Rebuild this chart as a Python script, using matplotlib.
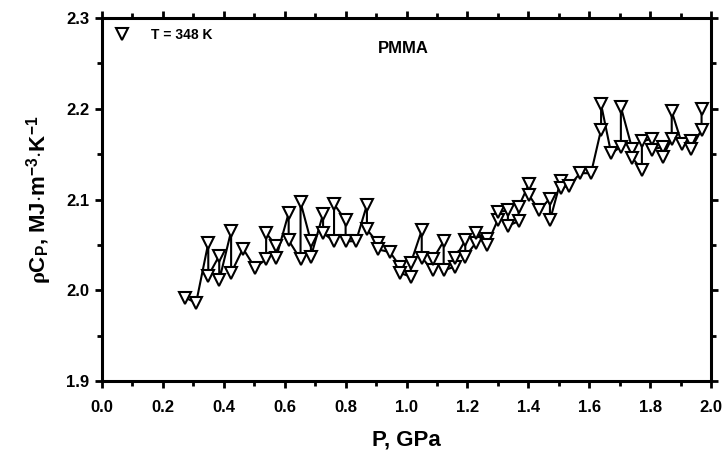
import matplotlib
matplotlib.use("Agg")
import matplotlib.pyplot as plt
from matplotlib.lines import Line2D
from matplotlib.ticker import MultipleLocator

# P, GPa (in plotting order)
pressure = [
    0.273, 0.309, 0.349, 0.349, 0.385, 0.385, 0.424, 0.424, 0.463, 0.502,
    0.539, 0.539, 0.572, 0.572, 0.613, 0.613, 0.652, 0.652, 0.686, 0.686,
    0.726, 0.726, 0.762, 0.762, 0.800, 0.800, 0.834, 0.870, 0.870, 0.906,
    0.906, 0.946, 0.979, 0.979, 1.014, 1.014, 1.050, 1.050, 1.086, 1.086,
    1.122, 1.122, 1.159, 1.159, 1.193, 1.193, 1.227, 1.227, 1.264, 1.264,
    1.299, 1.299, 1.333, 1.333, 1.368, 1.368, 1.402, 1.402, 1.435, 1.471,
    1.471, 1.506, 1.506, 1.535, 1.570, 1.606, 1.639, 1.639, 1.672, 1.704,
    1.704, 1.741, 1.741, 1.773, 1.773, 1.807, 1.807, 1.841, 1.841, 1.871,
    1.871, 1.905, 1.935, 1.935, 1.969, 1.969,
]
# rho*Cp, MJ m^-3 K^-1
rho_cp = [
    1.992, 1.986, 2.052, 2.016, 2.038, 2.011, 2.065, 2.019, 2.046, 2.025,
    2.034, 2.063, 2.049, 2.036, 2.085, 2.055, 2.034, 2.097, 2.054, 2.037,
    2.084, 2.063, 2.054, 2.095, 2.077, 2.054, 2.054, 2.094, 2.067, 2.052,
    2.045, 2.042, 2.026, 2.019, 2.015, 2.030, 2.066, 2.036, 2.022, 2.034,
    2.054, 2.022, 2.026, 2.035, 2.055, 2.037, 2.052, 2.063, 2.057, 2.050,
    2.077, 2.086, 2.088, 2.071, 2.076, 2.092, 2.117, 2.105, 2.088, 2.101,
    2.077, 2.120, 2.113, 2.115, 2.129, 2.129, 2.177, 2.205, 2.151, 2.158,
    2.202, 2.156, 2.146, 2.133, 2.164, 2.167, 2.155, 2.158, 2.147, 2.167,
    2.197, 2.161, 2.164, 2.156, 2.177, 2.200,
]

legend_label = "T = 348 K"
sample_name = "PMMA"

plt.rcParams["font.family"] = ["Liberation Sans", "DejaVu Sans"]
plt.rcParams["font.weight"] = "bold"
plt.rcParams["mathtext.fontset"] = "custom"
plt.rcParams["mathtext.rm"] = "Liberation Sans:bold"
plt.rcParams["mathtext.it"] = "Liberation Serif"
plt.rcParams["mathtext.bf"] = "Liberation Sans:bold"

fig = plt.figure(figsize=(7.25, 4.59), dpi=100)
ax = fig.add_axes([0.1407, 0.1699, 0.8400, 0.7909])

ax.plot(pressure, rho_cp, color="black", lw=1.5, marker="v", ms=8,
        mfc="white", mec="black", mew=1.5)

ax.set_xlim(0.0, 2.0)
ax.set_ylim(1.9, 2.3)
ax.xaxis.set_major_locator(MultipleLocator(0.2))
ax.xaxis.set_minor_locator(MultipleLocator(0.1))
ax.yaxis.set_major_locator(MultipleLocator(0.1))
ax.yaxis.set_minor_locator(MultipleLocator(0.05))
ax.xaxis.set_major_formatter(lambda v, p: f"{v:.1f}")
ax.yaxis.set_major_formatter(lambda v, p: f"{v:.1f}")

for s in ax.spines.values():
    s.set_linewidth(2.2)
ax.tick_params(which="both", direction="out", top=True, right=True,
               width=2.0, labelsize=12)
ax.tick_params(which="major", length=5)
ax.tick_params(which="minor", length=3.5)
ax.tick_params(axis="x", which="major", pad=9)
ax.tick_params(axis="y", which="major", pad=4)

ax.set_xlabel("P, GPa", fontsize=16, fontweight="bold", labelpad=10)
ax.set_ylabel(r"$\rho$C$_\mathregular{P}$, MJ$\cdot$m$^{-3}$$\cdot$K$^{-1}$",
              fontsize=16, fontweight="bold", labelpad=9)

handle = Line2D([], [], ls="none", marker="v", ms=8, mfc="white",
                mec="black", mew=1.5)
ax.legend([handle], [legend_label], loc="upper left", frameon=False,
          fontsize=10, handlelength=1.5, handletextpad=1.3,
          borderaxespad=0.3)

ax.text(0.494, 0.917, sample_name, transform=ax.transAxes, ha="center",
        va="center", fontsize=12, fontweight="bold")

fig.savefig("out.png", dpi=100, facecolor="white")
